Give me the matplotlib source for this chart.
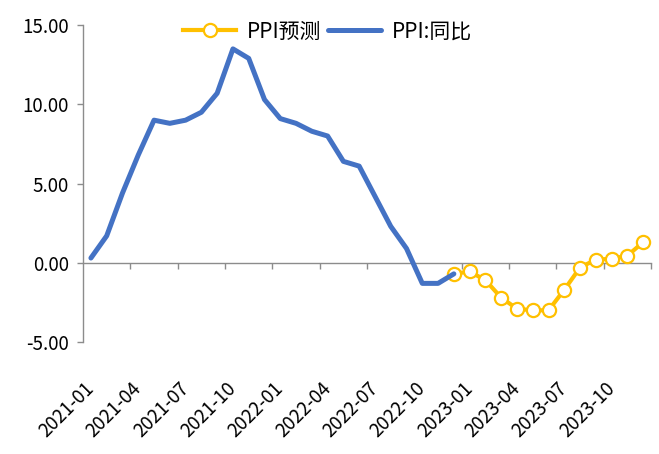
import numpy as np
import matplotlib.pyplot as plt

plt.rcParams['font.family'] = ['Noto Sans CJK SC', 'DejaVu Sans']

# ── data ────────────────────────────────────────────────────────────────
months = [f'{y}-{m:02d}' for y in (2021, 2022, 2023) for m in range(1, 13)]

# PPI 同比, 2021-01 .. 2022-12
ppi_actual = [0.3, 1.7, 4.4, 6.8, 9.0, 8.8, 9.0, 9.5, 10.7, 13.5, 12.9, 10.3,
              9.1, 8.8, 8.3, 8.0, 6.4, 6.1, 4.2, 2.3, 0.9, -1.3, -1.3, -0.7]

# PPI 预测, 2022-12 .. 2023-12
ppi_forecast = [-0.7, -0.55, -1.1, -2.2, -2.9, -3.0, -3.0, -1.7, -0.3,
                0.2, 0.25, 0.45, 1.3]

tick_labels = months[::3]

# ── plot ────────────────────────────────────────────────────────────────
x = np.arange(len(months))
x_actual = x[:len(ppi_actual)]
x_fore = x[len(ppi_actual) - 1:len(ppi_actual) - 1 + len(ppi_forecast)]

blue = '#4472C4'
gold = '#FFC000'
axis_gray = '#8C8C8C'

fig = plt.figure(figsize=(6.59, 4.54), dpi=100)
ax = fig.add_axes([0.126, 0.2467, 0.862, 0.698])

ax.plot(x_fore, ppi_forecast, color=gold, lw=3.0, marker='o', ms=9.5,
        mfc='white', mec=gold, mew=1.6, label='PPI预测', zorder=3)
ax.plot(x_actual, ppi_actual, color=blue, lw=3.6, solid_capstyle='round',
        label='PPI:同比', zorder=4)

ax.set_xlim(-0.5, len(months) - 0.5)
ax.set_ylim(-5, 15)
ax.set_yticks([-5, 0, 5, 10, 15])
ax.set_yticklabels([f'{v:.2f}' for v in [-5, 0, 5, 10, 15]])

# category axis crosses at zero, tick marks between categories
ax.spines['bottom'].set_position(('data', 0))
ax.set_xticks(np.arange(2.5, len(months), 3))
ax.set_xticklabels([])
for s in ['top', 'right']:
    ax.spines[s].set_visible(False)
for s in ['left', 'bottom']:
    ax.spines[s].set_color(axis_gray)
    ax.spines[s].set_linewidth(1.0)
ax.tick_params(axis='both', direction='out', length=4.5, width=1.0,
               color=axis_gray)
ax.tick_params(axis='y', labelsize=13.5, pad=5.5)

# labels sit at the bottom of the plot area
sec = ax.secondary_xaxis('bottom')
sec.set_xticks(x[::3])
sec.set_xticklabels(tick_labels, rotation=45, ha='right', va='center',
                    rotation_mode='anchor', fontsize=13.5)
sec.tick_params(length=0, pad=31)
sec.spines['bottom'].set_visible(False)

fig.legend(loc='center', bbox_to_anchor=(0.497, 0.93), ncol=2, frameon=False,
           fontsize=15, handlelength=2.55, handletextpad=0.5,
           columnspacing=0.35)

fig.savefig('out.png', dpi=100)
